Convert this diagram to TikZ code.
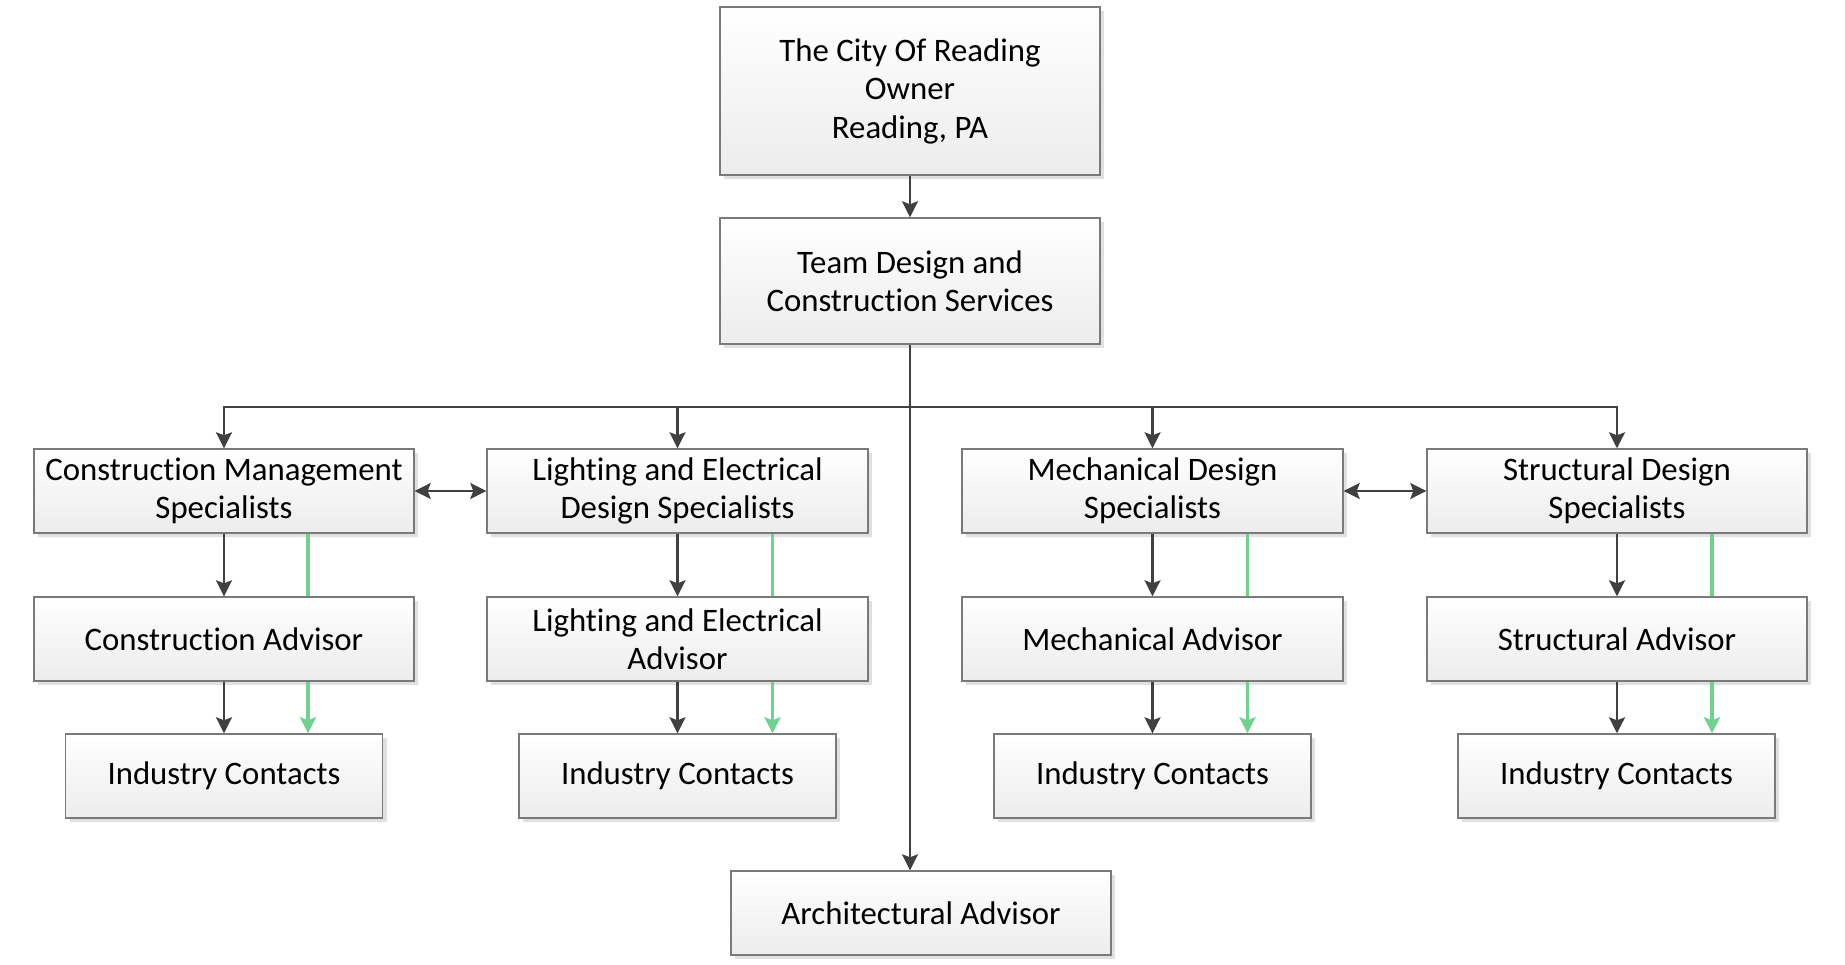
\documentclass[tikz,border=0pt]{standalone}
\usepackage{fontspec}
\setmainfont{Carlito}[Ligatures=NoCommon]
\usetikzlibrary{arrows.meta,shadows}

\definecolor{boxborder}{HTML}{7A7A7A}
\definecolor{boxbottom}{HTML}{ECECEC}
\definecolor{linkdark}{HTML}{404040}
\definecolor{linkgreen}{HTML}{72D191}

\tikzset{
  orgbox/.style={draw=boxborder, line width=1.4pt,
    top color=white, bottom color=boxbottom,
    minimum width=380pt, minimum height=84pt, inner sep=0pt,
    align=center, font=\fontsize{32.8}{38.5}\selectfont,
    drop shadow={shadow xshift=4pt, shadow yshift=-4pt, fill=black!12, opacity=1}},
  contactbox/.style={orgbox, minimum width=317pt},
  tip/.tip={Stealth[length=16pt,width=16pt,inset=3pt]},
  link/.style={draw=linkdark, line width=2.4pt, -tip},
  plainlink/.style={draw=linkdark, line width=2.4pt},
  twoway/.style={draw=linkdark, line width=2.4pt, tip-tip},
  greenline/.style={draw=linkgreen, line width=3.6pt},
  greenlink/.style={greenline, -tip}
}

\begin{document}
\begin{tikzpicture}[x=1pt,y=-1pt]
\useasboundingbox (0,0) rectangle (1845,965);

% top of the hierarchy
\node[orgbox, minimum height=168pt] (owner) at (910,91)
  {The City Of Reading\\Owner\\Reading, PA};
\node[orgbox, minimum height=126pt] (team) at (910,281)
  {Team Design and\\Construction Services};

% specialist groups
\node[orgbox] (cms) at (224,491) {Construction Management\\Specialists};
\node[orgbox, minimum width=381pt] (les) at (677.5,491) {Lighting and Electrical\\Design Specialists};
\node[orgbox, minimum width=381pt] (mds) at (1152.5,491) {Mechanical Design\\Specialists};
\node[orgbox] (sds) at (1617,491) {Structural Design\\Specialists};

% advisors
\node[orgbox] (ca) at (224,639) {Construction Advisor};
\node[orgbox, minimum width=381pt] (lea) at (677.5,639) {Lighting and Electrical\\Advisor};
\node[orgbox, minimum width=381pt] (ma) at (1152.5,639) {Mechanical Advisor};
\node[orgbox] (sa) at (1617,639) {Structural Advisor};

% industry contacts
\node[contactbox] (ic1) at (224,776) {Industry Contacts};
\node[contactbox] (ic2) at (677.5,776) {Industry Contacts};
\node[contactbox] (ic3) at (1152.5,776) {Industry Contacts};
\node[contactbox] (ic4) at (1616.5,776) {Industry Contacts};

\node[orgbox] (arch) at (921,913) {Architectural Advisor};

% owner to team, team down to the architectural advisor
\draw[link] (owner) -- (team);
\coordinate (bus) at (910,407);
\draw[link] (team.south) -- (team.south |- arch.north);

% distribution bus to the specialist groups
\draw[plainlink] (cms.north |- bus) -- (sds.north |- bus);
\draw[link] (bus) -| (cms.north);
\draw[link] (bus) -| (les.north);
\draw[link] (bus) -| (mds.north);
\draw[link] (bus) -| (sds.north);

% coordination between paired groups
\draw[twoway] (cms) -- (les);
\draw[twoway] (mds) -- (sds);

% reporting lines within each column
\foreach \g/\a/\c/\dx in {cms/ca/ic1/84, les/lea/ic2/95, mds/ma/ic3/95, sds/sa/ic4/95}{
  \draw[link] (\g) -- (\a);
  \draw[link] (\a.south) -- (\a.south |- \c.north);
  \draw[greenline] ([xshift=\dx pt]\g.south) -- ([xshift=\dx pt]\a.north);
  \draw[greenlink] ([xshift=\dx pt]\a.south) -- ([xshift=\dx pt]\a.south |- \c.north);
}
\end{tikzpicture}
\end{document}
